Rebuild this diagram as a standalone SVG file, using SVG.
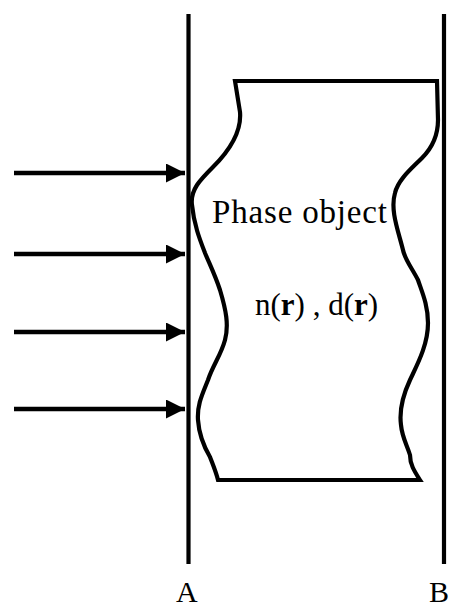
<svg xmlns="http://www.w3.org/2000/svg" width="451" height="610" viewBox="0 0 451 610">
<style>
.ln{stroke:#000;stroke-width:4.2;fill:none}
.ar{stroke:#000;stroke-width:4.5;fill:none}
.t{font-family:"Liberation Serif",serif;fill:#000}
</style>
<defs>
<marker id="ah" markerUnits="userSpaceOnUse" markerWidth="20" markerHeight="20" refX="19" refY="9.5" orient="auto">
<path d="M0,0 L19,9.5 L0,19 Z" fill="#000"/>
</marker>
</defs>
<rect width="451" height="610" fill="#fff"/>
<g id="planeA"><line class="ln" x1="188.5" y1="14" x2="188.5" y2="564"/></g>
<g id="planeB"><line class="ln" x1="444" y1="14" x2="444" y2="564"/></g>
<g id="object">
<path class="ln" d="M235,81 L240,112 C242,135 225,155 213,167 C200,180 190,190 192,205 C194,225 200,240 205,253 C210,265 215,275 220,290 C226,310 229,325 225,340 C221,355 213,365 208,380 C202,395 197,405 198,420 C199,435 203,445 210,457 C213,465 216,472 218,480 L420,480 C415,472 410,465 410,455 C407,445 402,437 401,425 C399,410 403,395 410,380 C417,365 428,345 428,323 C428,305 422,292 418,280 C412,268 405,260 403,250 C398,230 390,210 395,193 C398,180 410,170 422,158 C432,148 438,135 438,120 L437,81 Z"/>
<text class="t" x="212" y="223" font-size="33" textLength="175">Phase object</text>
<text class="t" x="255" y="315" font-size="31">n(<tspan font-weight="bold">r</tspan>) , d(<tspan font-weight="bold">r</tspan>)</text>
</g>
<g id="connectors">
<line class="ar" x1="14" y1="173" x2="185" y2="173" marker-end="url(#ah)"/>
<line class="ar" x1="14" y1="254" x2="185" y2="254" marker-end="url(#ah)"/>
<line class="ar" x1="14" y1="332" x2="185" y2="332" marker-end="url(#ah)"/>
<line class="ar" x1="14" y1="409" x2="185" y2="409" marker-end="url(#ah)"/>
</g>
<g id="labels">
<text class="t" x="176" y="602" font-size="30">A</text>
<text class="t" x="429" y="602" font-size="30">B</text>
</g>
</svg>
